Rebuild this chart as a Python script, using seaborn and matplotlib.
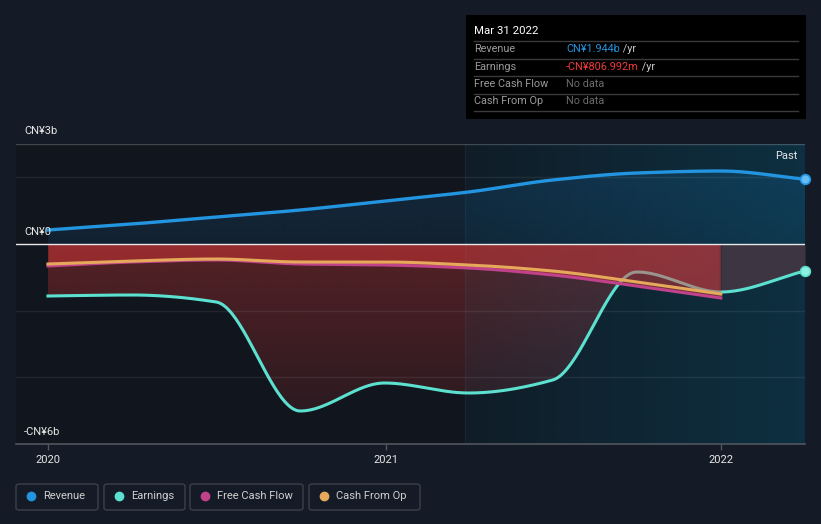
import numpy as np
import matplotlib
matplotlib.use("Agg")
import matplotlib.pyplot as plt
import seaborn as sns
from matplotlib.patches import Rectangle, FancyBboxPatch

# ---------------- data (CN¥ billions) ----------------
quarters = [2020.0, 2020.25, 2020.5, 2020.75, 2021.0, 2021.25, 2021.5, 2021.75, 2022.0, 2022.25]
revenue = [0.42, 0.60, 0.81, 1.02, 1.29, 1.56, 1.92, 2.13, 2.19, 1.944]
earnings = [-1.56, -1.53, -1.74, -5.01, -4.17, -4.47, -4.08, -0.84, -1.44, -0.807]
cf_quarters = [2020.0, 2020.25, 2020.5, 2020.75, 2021.0, 2021.25, 2021.5, 2021.75, 2022.0]
free_cash_flow = [-0.66, -0.54, -0.48, -0.60, -0.63, -0.72, -0.93, -1.26, -1.62]
cash_from_op = [-0.60, -0.51, -0.45, -0.54, -0.54, -0.63, -0.81, -1.14, -1.50]
year_ticks = [2020, 2021.005, 2022]
year_labels = ["2020", "2021", "2022"]
y_labels = ["CN¥3b", "CN¥0", "-CN¥6b"]
legend_names = ["Revenue", "Earnings", "Free Cash Flow", "Cash From Op"]
tooltip_title = "Mar 31 2022"
tooltip_rows = [("Revenue", "CN¥1.944b", " /yr"), ("Earnings", "-CN¥806.992m", " /yr"),
                ("Free Cash Flow", "No data", ""), ("Cash From Op", "No data", "")]

C_REV = "#2394df"
C_EARN = "#5ce1d0"
C_FCF = "#c0428a"
C_CFO = "#e6a95b"
BG = "#151b26"
PLOT_BG = "#11161e"
W, H = 821, 524


def smooth(x, y, n=400):
    """Monotone cubic (Fritsch-Carlson) curve through the points, for drawing only."""
    x = np.asarray(x, float)
    y = np.asarray(y, float)
    h = np.diff(x)
    d = np.diff(y) / h
    m = np.zeros_like(y)
    m[0], m[-1] = d[0], d[-1]
    for k in range(1, len(x) - 1):
        if d[k - 1] * d[k] <= 0:
            m[k] = 0
        else:
            w1 = 2 * h[k] + h[k - 1]
            w2 = h[k] + 2 * h[k - 1]
            m[k] = (w1 + w2) / (w1 / d[k - 1] + w2 / d[k])
    xs = np.linspace(x[0], x[-1], n)
    idx = np.clip(np.searchsorted(x, xs) - 1, 0, len(x) - 2)
    t = (xs - x[idx]) / h[idx]
    h00 = 2 * t**3 - 3 * t**2 + 1
    h10 = t**3 - 2 * t**2 + t
    h01 = -2 * t**3 + 3 * t**2
    h11 = t**3 - t**2
    ys = h00 * y[idx] + h10 * h[idx] * m[idx] + h01 * y[idx + 1] + h11 * h[idx] * m[idx + 1]
    return xs, ys


def F(px, py):
    return px / W, 1 - py / H


plt.rcParams["font.family"] = ["Roboto", "DejaVu Sans"]
fig = plt.figure(figsize=(W / 100, H / 100), dpi=100, facecolor=BG)
ax = fig.add_axes([16 / W, (H - 444) / H, 789 / W, 300 / H])
ax.set_facecolor(PLOT_BG)

xmin, xmax = 2019.905, 2022.25
ymin, ymax = -6, 3

xr, yr = smooth(quarters, revenue)
xe, ye = smooth(quarters, earnings)
xf, yf = smooth(cf_quarters, free_cash_flow)
xc, yc = smooth(cf_quarters, cash_from_op)

# revenue gradient fill
poly = ax.fill_between(xr, 0, yr, color="none", lw=0)
g = np.zeros((100, 2, 4))
g[..., 0], g[..., 1], g[..., 2] = 33 / 255, 150 / 255, 243 / 255
g[..., 3] = np.linspace(0.17, 0.09, 100)[:, None]
im = ax.imshow(g, extent=[2020, 2022.25, 0, 3], aspect="auto", origin="upper", zorder=1,
               interpolation="bilinear")
im.set_clip_path(poly.get_paths()[0], transform=ax.transData)

# earnings gradient fill (to 2022)
mask = xe <= 2022.0001
poly2 = ax.fill_between(xe[mask], 0, ye[mask], color="none", lw=0)
g2 = np.zeros((100, 2, 4))
g2[..., 0], g2[..., 1], g2[..., 2] = 229 / 255, 57 / 255, 53 / 255
g2[..., 3] = np.linspace(0.32, 0.09, 100)[:, None]
im2 = ax.imshow(g2, extent=[2020, 2022, -6, 0], aspect="auto", origin="upper", zorder=1,
                interpolation="bilinear")
im2.set_clip_path(poly2.get_paths()[0], transform=ax.transData)

# grey region after last cash-flow point
mask3 = xe >= 2021.999
ax.fill_between(xe[mask3], 0, ye[mask3], color="#3d3541", lw=0, zorder=1.9)

# highlighted "past year" overlay
ov = np.zeros((2, 100, 4))
ov[..., 0], ov[..., 1], ov[..., 2] = 0, 140 / 255, 190 / 255
ov[..., 3] = np.linspace(0.06, 0.22, 100)[None, :]
ax.imshow(ov, extent=[2021.24, xmax, ymin, ymax], aspect="auto", zorder=1.8,
          interpolation="bilinear")
ax.axvline(2021.24, color="#ffffff", alpha=0.04, lw=1, zorder=1.8)

# gridlines
for gy in [2, -2, -4]:
    ax.axhline(gy, color="#ffffff", alpha=0.07, lw=1, zorder=2.7)
ax.axhline(3, color="#ffffff", alpha=0.2, lw=1, zorder=2.7)

# earnings line (under cash-flow fill)
sns.lineplot(x=xe, y=ye, ax=ax, color=C_EARN, lw=2.2, zorder=2, legend=False)
# cash flow fill
ax.fill_between(xf, 0, yf, color="#e5393a", alpha=0.45, lw=0, zorder=2.5)
ax.axhline(0, color="#e8e8e8", lw=1.0, zorder=2.9)

sns.lineplot(x=xf, y=yf, ax=ax, color=C_FCF, lw=2.2, zorder=3, legend=False)
sns.lineplot(x=xc, y=yc, ax=ax, color=C_CFO, lw=2.2, zorder=3.1, legend=False)
sns.lineplot(x=xr, y=yr, ax=ax, color=C_REV, lw=2.4, zorder=3.2, legend=False)

ax.plot([quarters[-1]], [revenue[-1]], "o", ms=7, mfc="#64bdf5", mec=C_REV, mew=1.2,
        zorder=4, clip_on=False)
ax.plot([quarters[-1]], [earnings[-1]], "o", ms=7, mfc="#8ff0e2", mec=C_EARN, mew=1.2,
        zorder=4, clip_on=False)

ax.set_xlim(xmin, xmax)
ax.set_ylim(ymin, ymax)
for s in ["top", "right", "left"]:
    ax.spines[s].set_visible(False)
ax.spines["bottom"].set_color("#50555e")
ax.spines["bottom"].set_linewidth(1.2)
ax.set_yticks([])
ax.set_xticks(year_ticks)
ax.set_xticklabels(year_labels)
ax.tick_params(axis="x", colors="#50555e", labelcolor="#e6e6e6", length=4, width=1,
               labelsize=8, pad=4)
ax.set_xlabel("")
ax.set_ylabel("")

# y labels
for lab, py in zip(y_labels, [131, 232, 432]):
    fig.text(*F(24, py), lab, color="#e6e6e6", fontsize=8, va="center", ha="left")

fig.text(*F(797, 156), "Past", color="#e6e6e6", fontsize=8, va="center", ha="right")

# tooltip
fig.patches.append(Rectangle(F(466, 119), 340 / W, 104 / H, transform=fig.transFigure,
                             facecolor="#000000", edgecolor="none", zorder=5))
fig.text(*F(474, 31), tooltip_title, color="#ffffff", fontsize=8.2, va="center", zorder=6)
for ly in [41, 59, 76, 94, 111]:
    fig.add_artist(plt.Line2D([474 / W, 798 / W], [1 - ly / H] * 2, color="#3a3a3a", lw=1,
                              transform=fig.transFigure, zorder=6))
val_colors = [C_REV, "#f03a3a", "#6b6b6b", "#6b6b6b"]
for (lab, val, unit), py, vc in zip(tooltip_rows, [49, 67, 84, 101], val_colors):
    fig.text(*F(474, py), lab, color="#9a9a9a", fontsize=7.8, va="center", zorder=6)
    t = fig.text(*F(566, py), val, color=vc, fontsize=7.8, va="center", zorder=6)
    if unit:
        fig.canvas.draw()
        bb = t.get_window_extent()
        fig.text(bb.x1 / W, 1 - py / H, unit, color="#c8c8c8", fontsize=7.8, va="center",
                 zorder=6)

# legend boxes
boxes = [(16, 98), (104, 185), (190, 303), (309, 420)]
for (x0, x1), name, col in zip(boxes, legend_names, [C_REV, C_EARN, C_FCF, C_CFO]):
    fig.patches.append(FancyBboxPatch(F(x0, 510), (x1 - x0) / W, 26 / H,
                                      boxstyle="round,pad=0,rounding_size=0.004",
                                      transform=fig.transFigure, facecolor="none",
                                      edgecolor="#3b404a", lw=1))
    fig.add_artist(plt.Line2D([(x0 + 15) / W], [1 - 496 / H], marker="o", ms=6,
                              color=col, transform=fig.transFigure))
    fig.text(*F(x0 + 27, 496), name, color="#cfcfcf", fontsize=8, va="center")

fig.savefig("out.png", dpi=100, facecolor=BG)
